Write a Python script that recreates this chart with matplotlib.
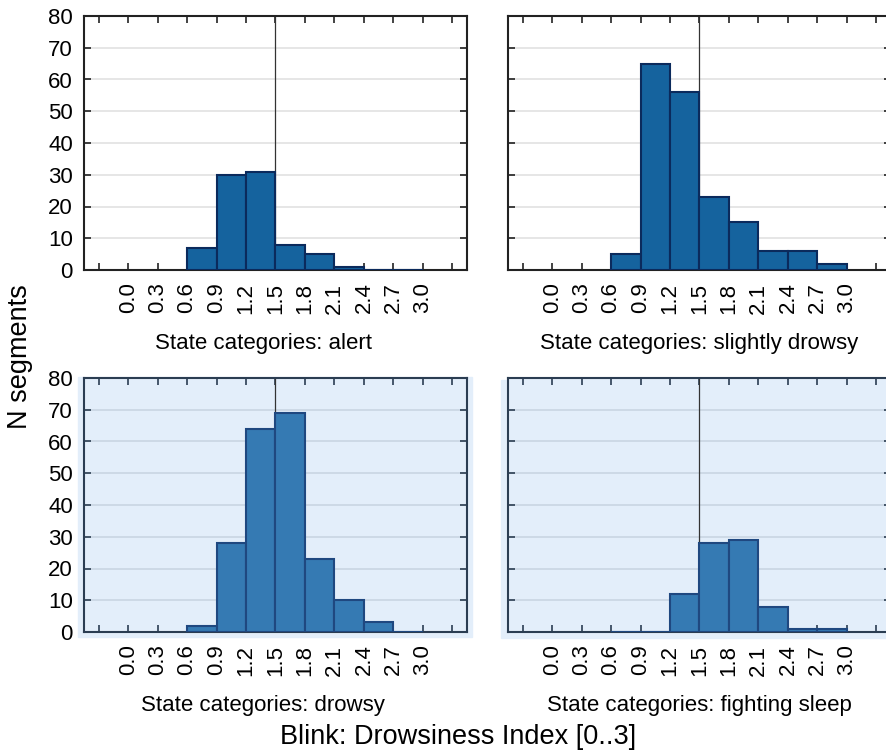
import numpy as np
import matplotlib
matplotlib.use('Agg')
import matplotlib.pyplot as plt
from matplotlib.patches import Rectangle

plt.rcParams['font.family'] = ['Liberation Sans', 'DejaVu Sans']

# bin left edges (width 0.3) and counts per state
bin_left = [0.6, 0.9, 1.2, 1.5, 1.8, 2.1, 2.4, 2.7]
alert = [7, 30, 31, 8, 5, 1, 0, 0]
slightly_drowsy = [5, 65, 56, 23, 15, 6, 6, 2]
drowsy = [2, 28, 64, 69, 23, 10, 3, 0]
fighting_sleep = [0, 0, 12, 28, 29, 8, 1, 1]

titles = ["State categories: alert", "State categories: slightly drowsy",
          "State categories: drowsy", "State categories: fighting sleep"]
tick_vals = [-0.3, 0.0, 0.3, 0.6, 0.9, 1.2, 1.5, 1.8, 2.1, 2.4, 2.7, 3.0, 3.3]
tick_labels = ["", "0.0", "0.3", "0.6", "0.9", "1.2", "1.5", "1.8", "2.1",
               "2.4", "2.7", "3.0", ""]
ref_line = 1.5

W, H = 887, 753
fig = plt.figure(figsize=(W / 100, H / 100), dpi=100)

def fx(px):
    return px / W

def fy(py):
    return 1 - py / H

# light blue background behind lower panels
bg = '#e3eefa'
fig.patches.append(Rectangle((fx(78), fy(637)), fx(472 - 78), fy(377) - fy(637),
                             transform=fig.transFigure, color=bg, zorder=-1))
fig.patches.append(Rectangle((fx(501), fy(638)), fx(400), fy(380) - fy(638),
                             transform=fig.transFigure, color=bg, zorder=-1))

aw = fx(467 - 84)
ah = fy(16) - fy(270)
positions = [(fx(84), fy(270)), (fx(508), fy(270)), (fx(84), fy(632)), (fx(508), fy(632))]
data = [alert, slightly_drowsy, drowsy, fighting_sleep]

for i, (pos, counts, title) in enumerate(zip(positions, data, titles)):
    ax = fig.add_axes([pos[0], pos[1], aw, ah])
    lower = i >= 2
    if lower:
        face, edge, spine, grid = '#357ab3', '#1f4880', '#2b3d52', '#c9d5e3'
        ax.set_facecolor(bg)
    else:
        face, edge, spine, grid = '#15639e', '#0b2a5c', '#222222', '#e2e2e2'
        ax.set_facecolor('white')
    ax.bar(bin_left, counts, width=0.3, align='edge', color=face,
           edgecolor=edge, linewidth=1.5, zorder=3)
    ax.axvline(ref_line, color='#333333', linewidth=0.9, zorder=2)
    ax.set_xlim(-0.45, 3.45)
    ax.set_ylim(0, 80)
    ax.set_yticks(np.arange(0, 81, 10))
    ax.yaxis.grid(True, color=grid, linewidth=1.2, zorder=1)
    ax.set_axisbelow(True)
    ax.set_xticks(tick_vals)
    ax.set_xticklabels(tick_labels, rotation=90)
    ax.tick_params(direction='in', length=5, width=1.2, color=spine,
                   top=True, right=True, labelsize=16)
    ax.tick_params(axis='x', pad=9)
    ax.tick_params(axis='y', pad=8)
    if i % 2 == 1:
        ax.set_yticklabels([])
    for s in ax.spines.values():
        s.set_color(spine)
        s.set_linewidth(1.5)
    ax.set_xlabel(title, fontsize=16, labelpad=14)
    if i % 2 == 0:
        # left-column captions sit a bit left of the axes centre
        ax.xaxis.label.set_x(0.468)

fig.text(fx(20), fy(357), "N segments", rotation=90, fontsize=19.5,
         ha='center', va='center')
fig.text(fx(458), fy(737), "Blink: Drowsiness Index [0..3]", fontsize=19.5,
         ha='center', va='center')

plt.savefig('out.png', dpi=100)
